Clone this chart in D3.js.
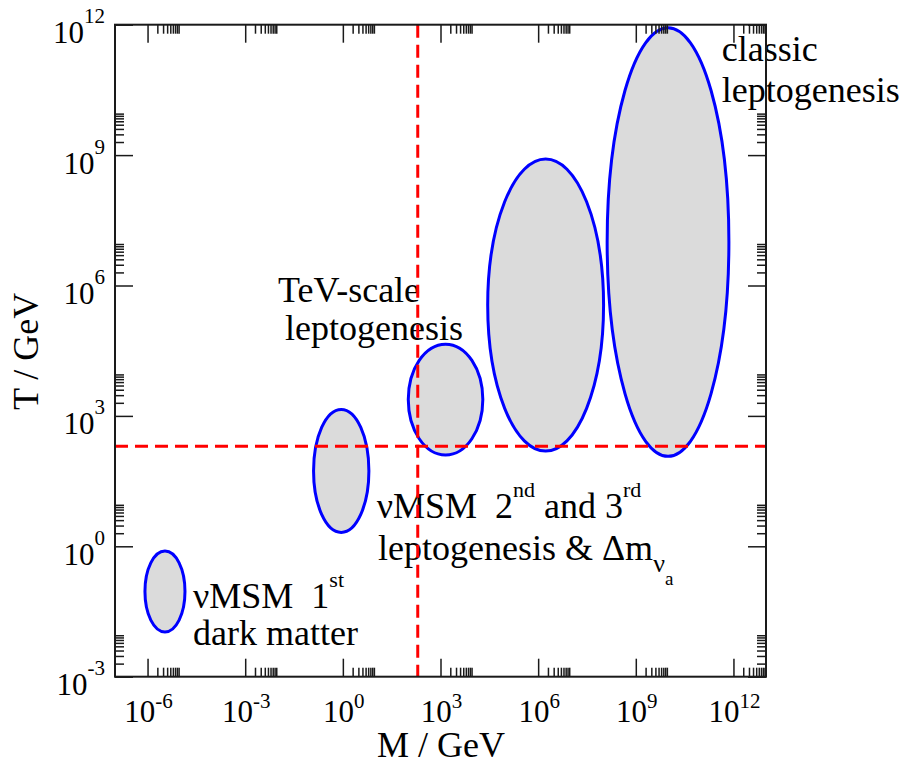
<!DOCTYPE html>
<html>
<head>
<meta charset="utf-8">
<script src="https://cdn.jsdelivr.net/npm/d3@7"></script>
<style>
  html, body { margin: 0; padding: 0; background: #fff; }
  svg { display: block; }
  text { font-family: "Liberation Serif", "Times New Roman", "DejaVu Serif", serif; fill: #000; }
</style>
</head>
<body>
<svg id="chart" width="906" height="761"></svg>
<script>
// Axis layout: log-log, majors every three decades
const massDomain = [1e-7, 1e13];
const tempDomain = [1e-3, 1e12];
const massMajorExp = [-6, -3, 0, 3, 6, 9, 12];
const tempMajorExp = [-3, 0, 3, 6, 9, 12];
const massTickLabels = ["-6", "-3", "0", "3", "6", "9", "12"];
const tempTickLabels = ["-3", "0", "3", "6", "9", "12"];

// Parameter regions (log10 of GeV) for each scenario
const regionNames = ["nuMSM-DM", "nuMSM-lepto", "TeV-scale", "intermediate", "classic"];
const massLogLow  = [-6.08, -0.90, 2.01, 4.45, 8.12];
const massLogHigh = [-4.85,  0.80, 4.30, 8.01, 11.86];
const tempLogLow  = [-1.97,  0.32, 2.10, 2.19, 2.07];
const tempLogHigh = [-0.11,  3.15, 4.65, 8.91, 11.93];

// Electroweak scale reference lines (GeV)
const ewMass = 200;
const ewTemp = 200;

const svg = d3.select("#chart");
const plotL = 115, plotR = 766, plotT = 24.7, plotB = 676.7;

const x = d3.scaleLog().domain(massDomain).range([plotL, plotR]);
const y = d3.scaleLog().domain(tempDomain).range([plotB, plotT]);

const minorOf = (exps, dom) => exps.flatMap(e => d3.range(2, 10).map(k => k * Math.pow(10, e)))
  .filter(v => v > dom[0] && v < dom[1]);
const xMajor = massMajorExp.map(e => Math.pow(10, e));
const yMajor = tempMajorExp.map(e => Math.pow(10, e));
const xMinor = minorOf(massMajorExp, massDomain);
const yMinor = minorOf(tempMajorExp, tempDomain);

// Regions
const regions = regionNames.map((n, i) => ({
  name: n,
  m0: Math.pow(10, massLogLow[i]), m1: Math.pow(10, massLogHigh[i]),
  t0: Math.pow(10, tempLogLow[i]), t1: Math.pow(10, tempLogHigh[i])
}));
svg.append("g").selectAll("ellipse").data(regions).join("ellipse")
  .attr("cx", d => (x(d.m0) + x(d.m1)) / 2)
  .attr("cy", d => (y(d.t0) + y(d.t1)) / 2)
  .attr("rx", d => (x(d.m1) - x(d.m0)) / 2)
  .attr("ry", d => (y(d.t0) - y(d.t1)) / 2)
  .attr("fill", "#dbdbdb")
  .attr("stroke", "#0000ff")
  .attr("stroke-width", 3);

// Annotations
function label(xp, yp, parts) {
  const t = svg.append("text").attr("x", xp).attr("y", yp).attr("font-size", 36);
  parts.forEach(p => {
    const s = t.append("tspan").text(p.t);
    if (p.dy) s.attr("dy", p.dy);
    if (p.fs) s.attr("font-size", p.fs);
  });
  return t;
}
label(721.7, 61, [{t: "classic"}]);
label(721.7, 102, [{t: "leptogenesis"}]);
label(278, 302, [{t: "TeV-scale"}]);
label(285, 340, [{t: "leptogenesis"}]);
label(376.7, 518, [{t: "\u03BDMSM\u00A0\u00A02"}, {t: "nd", dy: -21, fs: 22}, {t: " and 3", dy: 21}, {t: "rd", dy: -21, fs: 22}]);
label(378, 560, [{t: "leptogenesis & \u0394m"}, {t: "\u03BD", dy: 12, fs: 26}, {t: "a", dy: 13, fs: 19}]);
label(193, 608, [{t: "\u03BDMSM\u00A0\u00A01"}, {t: "st", dy: -21, fs: 22}]);
label(193, 645, [{t: "dark matter"}]);

// Electroweak reference lines
svg.append("line")
  .attr("x1", plotL).attr("x2", plotR).attr("y1", y(ewTemp)).attr("y2", y(ewTemp))
  .attr("stroke", "#ff0000").attr("stroke-width", 3).attr("stroke-dasharray", "13,7");
svg.append("line")
  .attr("x1", x(ewMass)).attr("x2", x(ewMass)).attr("y1", plotT).attr("y2", plotB)
  .attr("stroke", "#ff0000").attr("stroke-width", 3).attr("stroke-dasharray", "13,7");

// Inward ticks on all four sides
function ticks(axisFn, scale, vals, size, tr) {
  const g = svg.append("g").attr("transform", tr)
    .call(axisFn(scale).tickValues(vals).tickSize(-size).tickFormat(""));
  g.select(".domain").remove();
  g.selectAll("line").attr("stroke", "#1a1a1a").attr("stroke-width", 1.5);
}
ticks(d3.axisBottom, x, xMajor, 18, `translate(0,${plotB})`);
ticks(d3.axisBottom, x, xMinor, 9, `translate(0,${plotB})`);
ticks(d3.axisTop, x, xMajor, 18, `translate(0,${plotT})`);
ticks(d3.axisTop, x, xMinor, 9, `translate(0,${plotT})`);
ticks(d3.axisLeft, y, yMajor, 18, `translate(${plotL},0)`);
ticks(d3.axisLeft, y, yMinor, 9, `translate(${plotL},0)`);
ticks(d3.axisRight, y, yMajor, 18, `translate(${plotR},0)`);
ticks(d3.axisRight, y, yMinor, 9, `translate(${plotR},0)`);

// Frame
svg.append("rect")
  .attr("x", plotL).attr("y", plotT).attr("width", plotR - plotL).attr("height", plotB - plotT)
  .attr("fill", "none").attr("stroke", "#1a1a1a").attr("stroke-width", 2);

// Tick labels
xMajor.forEach((v, i) => {
  const t = svg.append("text").attr("x", x(v) + 1).attr("y", 721.7)
    .attr("text-anchor", "middle").attr("font-size", 31);
  t.append("tspan").text("10");
  t.append("tspan").attr("dy", -14).attr("font-size", 21).text(massTickLabels[i]);
});
yMajor.forEach((v, i) => {
  const t = svg.append("text").attr("x", 105).attr("y", y(v) + 18.5)
    .attr("text-anchor", "end").attr("font-size", 31);
  t.append("tspan").text("10");
  t.append("tspan").attr("dy", -20).attr("font-size", 21).text(tempTickLabels[i]);
});

// Axis titles
svg.append("text").attr("x", 377).attr("y", 757).attr("font-size", 36).text("M / GeV");
svg.append("text").attr("transform", "translate(38,410) rotate(-90)").attr("font-size", 36).text("T / GeV");
</script>
</body>
</html>
